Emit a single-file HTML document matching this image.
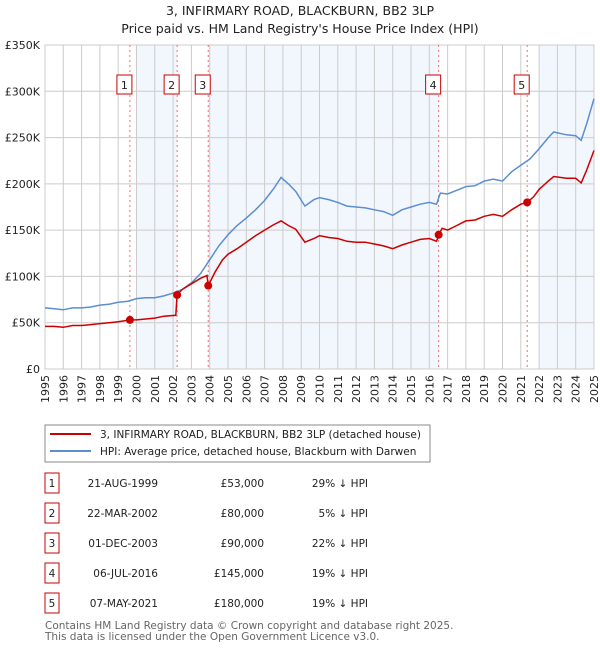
<!DOCTYPE html>
<html><head><meta charset="utf-8"><style>
body{margin:0;background:#fff;}
svg{display:block;font-family:"DejaVu Sans","Liberation Sans",sans-serif;}
</style></head><body>
<svg id="chart" width="600" height="650" xmlns="http://www.w3.org/2000/svg">
<text x="300" y="15" text-anchor="middle" font-size="12.5" fill="#222">3, INFIRMARY ROAD, BLACKBURN, BB2 3LP</text>
<text x="300" y="33" text-anchor="middle" font-size="12.5" fill="#222">Price paid vs. HM Land Registry's House Price Index (HPI)</text>
<g id="plot"></g>
<g>
<rect x="45" y="425" width="385" height="37" fill="#fff" stroke="#888"/>
<line x1="50" y1="434" x2="91" y2="434" stroke="#cc0000" stroke-width="2"/>
<text x="100" y="438" font-size="10.5" fill="#222">3, INFIRMARY ROAD, BLACKBURN, BB2 3LP (detached house)</text>
<line x1="50" y1="451" x2="91" y2="451" stroke="#5b8fd0" stroke-width="2"/>
<text x="100" y="455" font-size="10.5" fill="#222">HPI: Average price, detached house, Blackburn with Darwen</text>
</g>
<g id="table"></g>
<text x="45" y="629" font-size="10.5" fill="#666">Contains HM Land Registry data © Crown copyright and database right 2025.</text>
<text x="45" y="640" font-size="10.5" fill="#666">This data is licensed under the Open Government Licence v3.0.</text>
</svg>
<script>
const hpiYears=[1995,1995.5,1996,1996.5,1997,1997.5,1998,1998.5,1999,1999.5,2000,2000.5,2001,2001.5,2002,2002.5,2003,2003.5,2004,2004.5,2005,2005.5,2006,2006.5,2007,2007.5,2007.9,2008.3,2008.7,2009.2,2009.7,2010,2010.5,2011,2011.5,2012,2012.5,2013,2013.5,2014,2014.5,2015,2015.5,2016,2016.4,2016.6,2017,2017.5,2018,2018.5,2019,2019.5,2020,2020.5,2021,2021.5,2022,2022.5,2022.8,2023.5,2024,2024.3,2024.6,2025];
const hpiValues=[66,65,64,66,66,67,69,70,72,73,76,77,77,79,82,86,93,103,118,133,145,155,163,172,182,195,207,200,192,176,183,185,183,180,176,175,174,172,170,166,172,175,178,180,178,190,189,193,197,198,203,205,203,213,220,227,238,250,256,253,252,247,265,292];
const priceYears=[1995,1995.5,1996,1996.5,1997,1997.5,1998,1998.5,1999,1999.64,2000,2000.5,2001,2001.5,2002.15,2002.22,2002.5,2003,2003.5,2003.85,2003.92,2004.3,2004.7,2005,2005.5,2006,2006.5,2007,2007.5,2007.9,2008.3,2008.7,2009.2,2009.7,2010,2010.5,2011,2011.5,2012,2012.5,2013,2013.5,2014,2014.5,2015,2015.5,2016,2016.4,2016.52,2016.7,2017,2017.5,2018,2018.5,2019,2019.5,2020,2020.5,2021,2021.35,2021.7,2022,2022.5,2022.8,2023.5,2024,2024.3,2024.6,2025];
const priceValues=[46,46,45,47,47,48,49,50,51,53,53,54,55,57,58,80,86,92,98,101,90,105,118,124,130,137,144,150,156,160,155,151,137,141,144,142,141,138,137,137,135,133,130,134,137,140,141,138,145,152,150,155,160,161,165,167,165,172,178,180,186,194,203,208,206,206,201,215,236];
const saleYears=[1999.64,2002.22,2003.92,2016.51,2021.35];
const salePrices=[53,80,90,145,180];
const saleDates=["21-AUG-1999","22-MAR-2002","01-DEC-2003","06-JUL-2016","07-MAY-2021"];
const salePriceLabels=["£53,000","£80,000","£90,000","£145,000","£180,000"];
const saleHpiLabels=["29% ↓ HPI","5% ↓ HPI","22% ↓ HPI","19% ↓ HPI","19% ↓ HPI"];
const yTicks=[0,50,100,150,200,250,300,350];
const yTickLabels=["£0","£50K","£100K","£150K","£200K","£250K","£300K","£350K"];
const xTicks=[1995,1996,1997,1998,1999,2000,2001,2002,2003,2004,2005,2006,2007,2008,2009,2010,2011,2012,2013,2014,2015,2016,2017,2018,2019,2020,2021,2022,2023,2024,2025];

const NS="http://www.w3.org/2000/svg";
const L=45,R=594,T=45,B=369;
const xs=y=>L+(y-1995)/30*(R-L);
const ys=v=>B-v/350*(B-T);
const plot=document.getElementById('plot');
function mk(tag,attrs,parent){const e=document.createElementNS(NS,tag);for(const k in attrs)e.setAttribute(k,attrs[k]);(parent||plot).appendChild(e);return e;}

// shaded bands between alternating sales
const bands=[[2000,saleYears[1]],[saleYears[2],saleYears[3]],[2022,2025]];
bands.forEach(b=>{const r=mk('rect',{x:xs(b[0]),y:T,width:xs(b[1])-xs(b[0]),height:B-T,fill:'#eef3fc',opacity:0.75});

});
// grid
yTicks.forEach((t,i)=>{const g=mk('line',{x1:L,x2:R,y1:ys(t),y2:ys(t),stroke:'#ccc','stroke-width':1});


const tx=mk('text',{x:40,y:ys(t)+4,'text-anchor':'end','font-size':11,fill:'#222'});tx.textContent=yTickLabels[i];

});
xTicks.forEach(t=>{const g=mk('line',{x1:xs(t),x2:xs(t),y1:T,y2:B,stroke:'#ccc','stroke-width':1});


const tx=mk('text',{x:0,y:0,'text-anchor':'end','font-size':11,fill:'#222',transform:`translate(${xs(t)+4},375) rotate(-90)`});tx.textContent=t;

});
const fr=mk('rect',{x:L,y:T,width:R-L,height:B-T,fill:'none',stroke:'#ccc'});


// sale markers lines
saleYears.forEach((y,i)=>{const l=mk('line',{x1:xs(y),x2:xs(y),y1:T,y2:B,stroke:'#f07070','stroke-dasharray':'2,3','stroke-width':1});


const bx=mk('rect',{x:xs(y)-13,y:75,width:15,height:19,fill:'#fff',stroke:'#cc0000'});


const t=mk('text',{x:xs(y)-5.5,y:89,'text-anchor':'middle','font-size':11,fill:'#222'});t.textContent=i+1;

});
function path(xa,va){return xa.map((x,i)=>(i?'L':'M')+xs(x).toFixed(1)+','+ys(va[i]).toFixed(1)).join('');}
const hp=mk('path',{d:path(hpiYears,hpiValues),fill:'none',stroke:'#5b8fd0','stroke-width':1.5});


const pp=mk('path',{d:path(priceYears,priceValues),fill:'none',stroke:'#cc0000','stroke-width':1.5});


saleYears.forEach((y,i)=>{const c=mk('circle',{cx:xs(y),cy:ys(salePrices[i]),r:4,fill:'#cc0000'});

});

// table
const tb=document.getElementById('table');
saleYears.forEach((y,i)=>{const cy=483+i*30;
const b=mk('rect',{x:45,y:cy-10,width:14,height:20,fill:'#fff',stroke:'#cc0000'},tb);


const n=mk('text',{x:52,y:cy+4,'text-anchor':'middle','font-size':10.5,fill:'#222'},tb);n.textContent=i+1;


const d=mk('text',{x:158,y:cy+4,'text-anchor':'end','font-size':10.5,fill:'#222'},tb);d.textContent=saleDates[i];


const p=mk('text',{x:264,y:cy+4,'text-anchor':'end','font-size':10.5,fill:'#222'},tb);p.textContent=salePriceLabels[i];


const h=mk('text',{x:368,y:cy+4,'text-anchor':'end','font-size':10.5,fill:'#222'},tb);h.textContent=saleHpiLabels[i];

});
</script>
</body></html>
